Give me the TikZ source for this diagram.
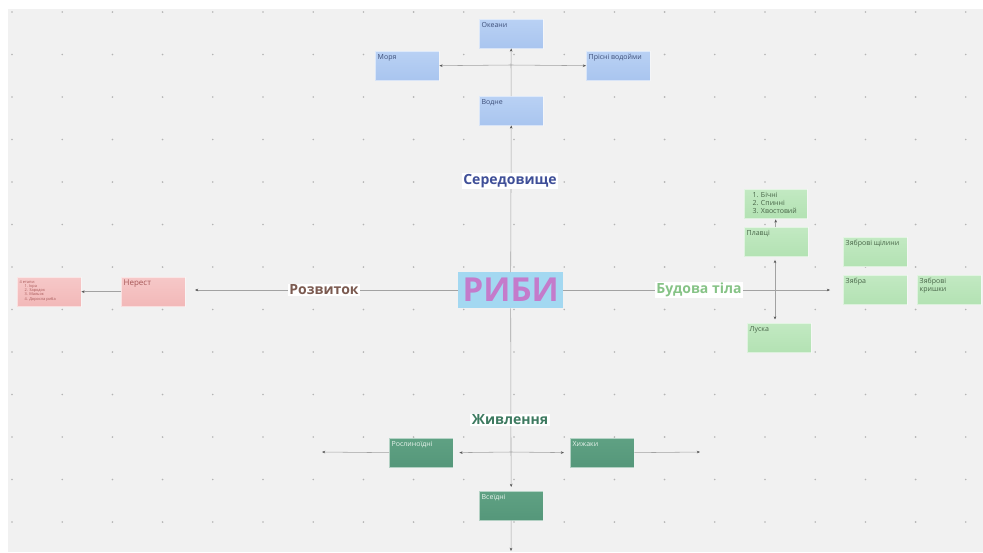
\documentclass[tikz,border=0pt]{standalone}
\usepackage{fontspec}
\setmainfont{Open Sans}
\newfontfamily\labelfont{Open Sans}
\usetikzlibrary{arrows.meta}

\definecolor{canvas}{HTML}{F1F1F1}
\definecolor{griddot}{HTML}{B4B4B4}
\definecolor{wire}{HTML}{A2A2A2}
\definecolor{tipcol}{HTML}{555555}
\definecolor{bluebox}{HTML}{A9C5EF}
\definecolor{bluetop}{HTML}{B9D1F4}
\definecolor{bluetext}{HTML}{3D4E78}
\definecolor{pinkbox}{HTML}{F2B8B8}
\definecolor{pinktop}{HTML}{F6C8C8}
\definecolor{pinktext}{HTML}{A65656}
\definecolor{lgreenbox}{HTML}{B3E2B3}
\definecolor{lgreentop}{HTML}{C2E9C2}
\definecolor{lgreentext}{HTML}{476447}
\definecolor{dgreenbox}{HTML}{55977A}
\definecolor{dgreentop}{HTML}{5FA183}
\definecolor{dgreentext}{HTML}{E8F3EC}
\definecolor{centerbox}{HTML}{A3D8F1}
\definecolor{centertext}{HTML}{C47BCB}
\definecolor{envtext}{HTML}{3F4F98}
\definecolor{devtext}{HTML}{7B5A50}
\definecolor{bodytext}{HTML}{86C386}
\definecolor{foodtext}{HTML}{3D7A60}

\newcommand{\boxtext}[2][64]{\parbox[c][23pt][t]{\dimexpr#1pt-5pt\relax}{\raggedright #2}}

\tikzset{
  card/.style={anchor=north west, inner sep=2.5pt, minimum height=29pt,
    font=\fontsize{7}{8}\selectfont, draw=white, draw opacity=0.55, line width=0.4pt},
  bluecard/.style={card, top color=bluetop, bottom color=bluebox, text=bluetext},
  pinkcard/.style={card, top color=pinktop, bottom color=pinkbox, text=pinktext},
  lgreencard/.style={card, top color=lgreentop, bottom color=lgreenbox, text=lgreentext},
  dgreencard/.style={card, top color=dgreentop, bottom color=dgreenbox, text=dgreentext},
  heading/.style={fill=white, inner xsep=1.5pt, inner ysep=1pt,
    font=\labelfont\bfseries\fontsize{14}{16}\selectfont},
  link/.style={draw=wire, line width=0.55pt},
  arrowlink/.style={link, -{Stealth[length=3.2pt,width=2.6pt,color=tipcol]}},
}

\begin{document}
\begin{tikzpicture}[x=1pt,y=-1pt]
\useasboundingbox (0,0) rectangle (983,552);
% canvas and dot grid
\fill[white] (0,0) rectangle (983,552);
\fill[canvas] (8,9) rectangle (983,552);
\foreach \i in {0,...,19}
  \foreach \j in {0,...,12}
    \fill[griddot] ({12+50.2*\i},{12+42.5*\j}) circle (0.9);

% ---- habitat branch (top)
\node[bluecard] (okeany) at (479,19) {\boxtext{Океани}};
\node[bluecard] (morya) at (375,51) {\boxtext{Моря}};
\node[bluecard] (prisni) at (586,51) {\boxtext{Прісні водойми}};
\node[bluecard] (vodne) at (479,96) {\boxtext{Водне}};
\coordinate (hub) at (511,65);

% ---- development branch (left)
\node[pinkcard] (etapy) at (17,277) {\parbox[c][23pt][t]{59pt}{\fontsize{3.9}{4.3}\selectfont 4 етапи:\\
  \hspace*{5pt}1. Ікра\\ \hspace*{5pt}2. Зародок\\ \hspace*{5pt}3. Мальок\\ \hspace*{5pt}4. Доросла риба}};
\node[pinkcard] (nerest) at (121,277) {\boxtext{\fontsize{8}{9}\selectfont Нерест}};
\coordinate (devend) at (195,290);

% ---- body branch (right)
\node[lgreencard] (fins) at (744,189) {\parbox[c][23pt][t]{58pt}{\hspace*{6pt}1. Бічні\\ \hspace*{6pt}2. Спинні\\ \hspace*{6pt}3. Хвостовий}};
\node[lgreencard] (plavtsi) at (744,227) {\boxtext{Плавці}};
\node[lgreencard] (luska) at (747,323) {\boxtext{Луска}};
\node[lgreencard] (shchilyny) at (843,237) {\boxtext{Зяброві щілини}};
\node[lgreencard] (zyabra) at (843,275) {\boxtext{Зябра}};
\node[lgreencard] (kryshky) at (917,275) {\boxtext{Зяброві\\кришки}};
\coordinate (bodyhub) at (775,290);
\coordinate (bodyend) at (830,290);

% ---- feeding branch (bottom)
\node[dgreencard] (roslyn) at (389,438) {\boxtext{Рослиноїдні}};
\node[dgreencard] (khyzh) at (570,438) {\boxtext{Хижаки}};
\node[dgreencard] (vseidni) at (479,491) {\boxtext{Всеїдні}};
\coordinate (foodhub) at (511,452);
\coordinate (foodleft) at (322,452);
\coordinate (foodright) at (700,452);
\coordinate (bottomend) at (511,551);

% ---- central node
\node[anchor=north west, fill=centerbox, minimum width=105pt, minimum height=36pt, inner sep=0pt,
  font=\labelfont\bfseries\fontsize{33}{36}\selectfont, text=centertext] (ryby) at (458,272) {РИБИ};

% ---- connectors
\draw[arrowlink] (hub) -- (okeany.south);
\draw[arrowlink] (hub) -- (morya.east);
\draw[arrowlink] (hub) -- (prisni.west);
\draw[link] (hub) -- (vodne.north);
\draw[arrowlink] (ryby.north) -- (vodne.south);

\draw[arrowlink] (ryby.west |- devend) -- (devend);
\draw[arrowlink] (nerest.west |- etapy.east) -- (etapy.east);

\draw[arrowlink] (ryby.east |- bodyend) -- (bodyend);
\draw[arrowlink, shorten >=3.5pt] (bodyhub) -- (bodyhub |- plavtsi.south);
\draw[arrowlink, shorten >=3.5pt] (bodyhub) -- (bodyhub |- luska.north);
\draw[arrowlink, shorten >=1pt] (plavtsi.north -| fins.south) -- (fins.south);

\draw[link] (ryby.south) -- (foodhub);
\draw[arrowlink, shorten >=6pt] (foodhub) -- (roslyn.east);
\draw[arrowlink, shorten >=6pt] (foodhub) -- (khyzh.west);
\draw[arrowlink, shorten >=4pt] (foodhub) -- (vseidni.north);
\draw[arrowlink] (roslyn.west) -- (foodleft);
\draw[arrowlink] (khyzh.east) -- (foodright);
\draw[arrowlink] (vseidni.south) -- (bottomend);

% ---- branch headings
\node[heading, text=envtext] (seredovyshche) at (510,181) {Середовище};
\node[heading, text=devtext] (rozvytok) at (324,290) {Розвиток};
\node[heading, text=bodytext] (budova) at (699,290) {Будова тіла};
\node[heading, text=foodtext] (zhyvlennia) at (510,420) {Живлення};
\end{tikzpicture}
\end{document}
